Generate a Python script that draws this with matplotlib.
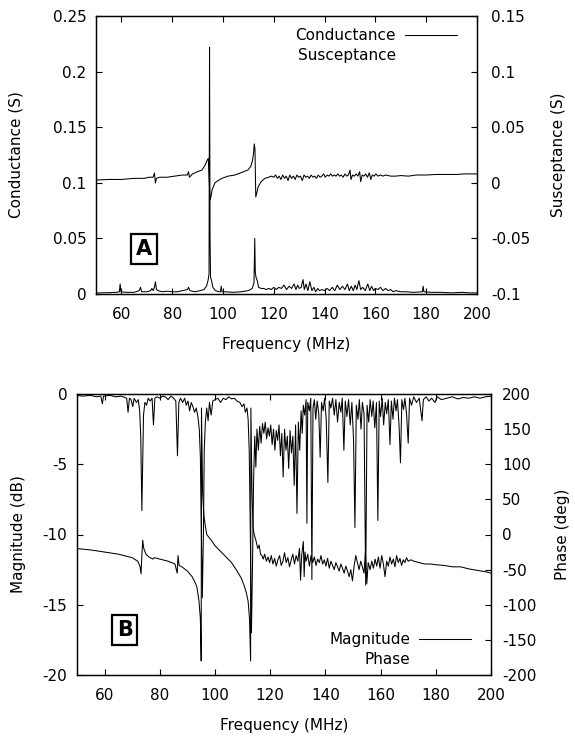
import matplotlib
matplotlib.use("Agg")
import matplotlib.pyplot as plt
from matplotlib.lines import Line2D

plt.rcParams['font.family'] = ['DejaVu Sans']
plt.rcParams['font.size'] = 11

# ---------------- Panel A data ----------------
cond_f = [50, 52, 55, 58, 59.2, 59.5, 59.8, 62, 65, 67, 67.5, 68, 70, 71.5, 72, 72.5, 73, 73.4, 73.8,
          74.5, 76, 78, 80, 82, 84, 86, 86.4, 87, 89, 91, 92.5, 93.5, 94.1, 94.5, 94.7, 94.9, 95.1,
          95.5, 96, 97, 98.5, 99, 99.3, 99.6, 101, 104, 107, 110, 111.5, 112.2, 112.5, 112.7, 113,
          113.5, 114, 115, 116, 117, 118, 119, 120, 121, 122, 123, 124, 125, 126, 127, 128, 128.7,
          129.4, 130, 130.8, 131.5, 132, 132.7, 133.4, 134.2, 135, 135.8, 136.5, 137.3, 138, 139,
          140, 141, 142, 143, 144, 145, 146, 147, 148, 149, 149.7, 150.5, 151.3, 152, 152.7, 153.5,
          154.2, 155, 156, 157, 157.8, 158.5, 159.3, 160, 161, 162, 163, 164, 165, 166, 167, 168,
          170, 172, 175, 178.5, 178.8, 179.1, 182, 186, 190, 194, 197, 200]
cond_g = [0.001, 0.001, 0.0012, 0.0015, 0.002, 0.009, 0.002, 0.0015, 0.0015, 0.003, 0.006, 0.002,
          0.002, 0.003, 0.005, 0.003, 0.006, 0.011, 0.004, 0.003, 0.002, 0.0025, 0.002, 0.002, 0.003,
          0.004, 0.006, 0.003, 0.002, 0.003, 0.004, 0.007, 0.012, 0.018, 0.222, 0.05, 0.015, 0.012,
          0.006, 0.003, 0.002, 0.002, 0.007, 0.002, 0.002, 0.0015, 0.002, 0.003, 0.005, 0.01, 0.05,
          0.02, 0.015, 0.012, 0.006, 0.005, 0.005, 0.004, 0.005, 0.004, 0.006, 0.004, 0.006, 0.005,
          0.008, 0.004, 0.007, 0.005, 0.009, 0.004, 0.008, 0.005, 0.006, 0.013, 0.004, 0.009, 0.003,
          0.011, 0.003, 0.006, 0.002, 0.005, 0.003, 0.004, 0.003, 0.005, 0.003, 0.006, 0.003, 0.008,
          0.004, 0.007, 0.004, 0.009, 0.003, 0.007, 0.003, 0.008, 0.004, 0.012, 0.004, 0.006, 0.003,
          0.009, 0.003, 0.007, 0.003, 0.005, 0.004, 0.006, 0.003, 0.005, 0.003, 0.004, 0.002, 0.003,
          0.002, 0.002, 0.0015, 0.002, 0.007, 0.002, 0.0015, 0.0015, 0.001, 0.0015, 0.001, 0.001]

susc_f = [50, 55, 60, 65, 69, 71, 72.5, 73, 73.4, 73.8, 75, 78, 81, 84, 86, 86.4, 86.8, 88, 90,
          91.7, 93, 93.7, 94.2, 94.6, 94.9, 95.3, 95.7, 96.3, 96.8, 98, 99.6, 102, 104.7, 107, 109.8,
          111, 111.6, 112.0, 112.3, 112.6, 112.9, 113.4, 113.8, 115, 116.5, 118, 119, 120, 120.7,
          121.4, 122.1, 122.8, 123.5, 124.2, 124.9, 125.6, 126.3, 127, 127.7, 128.4, 129.1, 129.8,
          130.5, 131.2, 131.9, 132.6, 133.3, 134, 134.7, 135.4, 136.1, 136.8, 137.5, 138.2, 138.9,
          139.6, 140.3, 141, 141.7, 142.4, 143.1, 143.8, 144.5, 145.2, 145.9, 146.6, 147.3, 148,
          148.7, 149.4, 150, 150.4, 151, 151.7, 152.4, 153.1, 153.8, 154.2, 154.8, 155.5, 156.2,
          156.9, 157.6, 158.2, 158.8, 159.5, 160.2, 161, 162, 163, 164, 165, 166, 168, 170, 173,
          176, 180, 184, 188, 192, 195, 198, 200]
susc_b = [0.0025, 0.003, 0.003, 0.004, 0.004, 0.005, 0.005, 0.0088, -0.0002, 0.004, 0.005, 0.005,
          0.006, 0.007, 0.007, 0.01, 0.005, 0.008, 0.01, 0.0115, 0.016, 0.020, 0.022, 0.0, -0.0155,
          -0.012, -0.0065, -0.003, -0.0002, 0.002, 0.004, 0.006, 0.007, 0.009, 0.0115, 0.015, 0.02,
          0.026, 0.035, 0.03, -0.0128, -0.008, -0.004, 0.001, 0.004, 0.005, 0.006, 0.005, 0.007,
          0.004, 0.006, 0.003, 0.007, 0.004, 0.006, 0.002, 0.007, 0.004, 0.006, 0.003, 0.007, 0.005,
          0.006, 0.002, 0.007, 0.005, 0.006, 0.004, 0.007, 0.005, 0.006, 0.004, 0.007, 0.005, 0.006,
          0.008, 0.005, 0.007, 0.006, 0.008, 0.006, 0.007, 0.006, 0.008, 0.006, 0.007, 0.005, 0.008,
          0.006, 0.007, 0.0115, 0.003, 0.007, 0.006, 0.008, 0.006, 0.010, 0.001, 0.007, 0.006, 0.008,
          0.005, 0.009, 0.003, 0.007, 0.006, 0.008, 0.006, 0.007, 0.006, 0.007, 0.0065, 0.006,
          0.006, 0.0065, 0.006, 0.007, 0.007, 0.0075, 0.0075, 0.0075, 0.008, 0.008, 0.008]

# ---------------- Panel B data ----------------
mag_f = [50, 52, 55, 57, 58.6, 59.2, 59.6, 62, 64, 66, 68, 68.5, 69, 69.6, 70.2, 70.7, 71.5, 72.2,
         72.7, 73.1, 73.5, 73.8, 74.1, 74.6, 75.2, 75.8, 76.5, 77.2, 77.7, 78.2, 79, 80, 81, 82, 83,
         84, 85, 85.8, 86.4, 86.9, 87.5, 88.3, 89, 89.6, 90.2, 90.8, 91.4, 92, 92.6, 93.2, 93.8,
         94.3, 94.7, 95.0, 95.4, 95.8, 96.1, 96.5, 97, 97.5, 98, 98.6, 99.2, 100, 101, 102, 103, 104,
         105, 106, 107, 108, 109, 109.8, 110.5, 111, 111.6, 112, 112.4, 112.8, 113.2, 113.6, 114,
         114.4, 114.8, 115.2, 115.7, 116.2, 116.7, 117.2, 117.7, 118.2, 118.7, 119.2, 119.7, 120.2,
         120.7, 121.2, 121.7, 122.2, 122.7, 123.2, 123.7, 124.2, 124.7, 125.2, 125.7, 126.2, 126.7,
         127.2, 127.7, 128.2, 128.7, 129.2, 129.7, 130.2, 130.7, 131.2, 131.6, 132, 132.5, 133,
         133.3, 133.6, 134.2, 134.7, 135.1, 135.5, 136, 136.5, 137, 137.6, 138.1, 138.6, 139.2,
         139.7, 140.3, 140.9, 141.4, 142, 142.6, 143.2, 143.8, 144.4, 145, 145.6, 146.1, 146.7,
         147.2, 147.8, 148.4, 149, 149.6, 150.2, 150.7, 151.2, 151.8, 152.3, 152.9, 153.4, 154,
         154.6, 155.1, 155.7, 156.2, 156.8, 157.3, 157.9, 158.5, 159, 159.5, 160, 160.6, 161.1,
         161.7, 162.2, 162.8, 163.4, 163.9, 164.5, 165, 165.6, 166.1, 166.7, 167.2, 167.7, 168.3,
         168.8, 169.4, 170, 170.5, 171.2, 172, 173, 174, 175, 175.5, 176.5, 177.5, 178.5, 179.7,
         180.5, 182, 184, 186, 188, 190, 192, 194, 196, 198, 200]
mag_db = [-0.1, -0.15, -0.1, -0.2, -0.15, -0.7, -0.15, -0.1, -0.2, -0.15, -0.3, -1.3, -0.3, -0.4,
          -0.9, -0.3, -0.6, -0.4, -1.2, -3.0, -8.3, -5.0, -1.5, -0.6, -0.8, -0.3, -0.5, -0.3, -2.2,
          -0.3, -0.2, -0.3, -0.15, -0.2, -0.4, -0.15, -0.3, -0.5, -4.4, -0.6, -0.3, -0.6, -0.3, -0.8,
          -0.5, -1.2, -0.6, -0.9, -1.3, -1.0, -1.6, -2.5, -4.5, -9.0, -14.5, -10.0, -4.0, -2.0,
          -1.0, -1.9, -0.6, -1.5, -0.5, -0.4, -0.3, -0.6, -0.3, -0.4, -0.2, -0.35, -0.3, -0.5, -0.6,
          -0.9, -0.7, -1.3, -1.0, -1.8, -4.0, -10.0, -17.0, -12.0, -6.0, -3.0, -5.2, -2.5, -4.0,
          -2.3, -3.5, -2.1, -2.8, -2.0, -3.2, -2.4, -3.0, -2.2, -3.6, -2.5, -4.0, -2.6, -3.3, -2.2,
          -4.4, -2.8, -5.9, -2.5, -4.0, -3.0, -5.3, -2.6, -4.2, -3.0, -6.5, -2.2, -8.5, -2.0, -4.0,
          -1.2, -2.8, -0.8, -1.5, -0.4, -9.2, -0.6, -1.2, -0.3, -13.2, -1.0, -0.4, -1.8, -0.5, -1.4,
          -4.5, -0.6, -1.2, -0.3, -1.8, -6.3, -0.5, -1.0, -0.3, -1.5, -0.4, -2.0, -0.6, -1.3, -0.3,
          -4.0, -0.5, -1.6, -0.4, -2.2, -0.6, -3.3, -9.5, -0.8, -1.8, -0.4, -2.5, -0.6, -1.4, -13.6,
          -0.8, -2.0, -0.4, -1.6, -0.5, -2.4, -0.6, -9.0, -0.5, -1.6, -0.3, -2.2, -0.6, -1.4, -0.4,
          -3.6, -0.5, -1.8, -0.3, -1.2, -0.4, -2.3, -4.9, -0.4, -1.1, -0.3, -1.4, -3.5, -0.3, -0.8,
          -0.2, -0.6, -0.3, -1.9, -0.4, -0.2, -0.5, -0.3, -0.6, -0.2, -0.4, -0.3, -0.2, -0.35, -0.25,
          -0.3, -0.2, -0.3, -0.2, -0.15]

phase_f = [50, 55, 60, 65, 70, 72, 72.8, 73.2, 73.5, 73.8, 74.2, 75, 76, 77.5, 78, 80, 83, 85.5,
           86.3, 86.6, 87, 88, 90, 91.7, 93, 93.5, 94.2, 94.7, 95.0, 95.1, 95.5, 96, 96.5, 97, 98,
           99, 100, 102, 104, 106, 108, 109.5, 110.5, 111.3, 112, 112.5, 112.9, 113.0, 113.4, 113.8,
           114.2, 114.8, 115.5, 116, 116.5, 117, 117.5, 118, 118.6, 119.2, 119.8, 120.4, 121, 121.6,
           122.2, 122.8, 123.4, 124, 124.6, 125.2, 125.8, 126.4, 127, 127.6, 128.2, 128.8, 129.4,
           130, 130.6, 131, 131.4, 132, 132.3, 132.6, 133, 133.6, 134.2, 134.8, 135.4, 136, 136.6,
           137.2, 137.8, 138.4, 139, 139.6, 140.2, 140.8, 141.4, 142, 142.6, 143.2, 143.8, 144.4,
           145, 145.6, 146.2, 146.8, 147.4, 148, 148.6, 149.2, 149.8, 150.4, 151, 151.6, 152.2,
           152.8, 153.4, 154, 154.5, 155, 155.5, 156.2, 156.8, 157.4, 158, 158.6, 159.2, 159.8,
           160.4, 161, 161.6, 162.2, 162.8, 163.4, 164, 164.6, 165.2, 165.8, 166.4, 167, 167.6,
           168.2, 168.8, 169.4, 170, 171, 172, 174, 176, 178, 180, 183, 186, 189, 192, 195, 198, 200]
phase_deg = [-20, -22, -25, -28, -33, -38, -45, -56, -30, -8, -20, -28, -32, -35, -33, -35, -38,
             -42, -55, -30, -44, -46, -52, -60, -70, -76, -95, -120, -180, 180, 60, 26, 12, 0, -5,
             -10, -16, -24, -32, -40, -52, -62, -72, -82, -95, -120, -180, 180, 60, 10, 0, -8, -20,
             -15, -28, -30, -35, -28, -38, -32, -40, -30, -42, -34, -45, -36, -30, -44, -38, -26,
             -40, -33, -46, -36, -28, -42, -30, -38, -20, -65, -30, -10, -60, -25, -38, -28, -45,
             -30, -40, -32, -44, -35, -40, -30, -42, -36, -45, -34, -48, -38, -44, -50, -40, -46,
             -52, -42, -48, -55, -45, -52, -60, -50, -66, -45, -30, -40, -50, -38, -46, -55, -25,
             -70, -40, -50, -38, -48, -35, -45, -32, -48, -30, -42, -60, -38, -45, -32, -42, -35,
             -46, -30, -40, -34, -44, -36, -40, -33, -38, -36, -38, -40, -42, -42, -43, -44, -46,
             -46, -49, -51, -53, -55]

# ---------------- tick definitions ----------------
freq_ticks = [60, 80, 100, 120, 140, 160, 180, 200]
freq_labels = ["60", "80", "100", "120", "140", "160", "180", "200"]
cond_ticks = [0, 0.05, 0.1, 0.15, 0.2, 0.25]
cond_labels = ["0", "0.05", "0.1", "0.15", "0.2", "0.25"]
susc_ticks = [-0.1, -0.05, 0, 0.05, 0.1, 0.15]
susc_labels = ["-0.1", "-0.05", "0", "0.05", "0.1", "0.15"]
mag_ticks = [-20, -15, -10, -5, 0]
mag_labels = ["-20", "-15", "-10", "-5", "0"]
phase_ticks = [-200, -150, -100, -50, 0, 50, 100, 150, 200]
phase_labels = ["-200", "-150", "-100", "-50", "0", "50", "100", "150", "200"]

W, H = 575, 738
fig = plt.figure(figsize=(W / 100, H / 100), dpi=100)

def px_axes(l, t, r, b):
    return fig.add_axes([l / W, 1 - b / H, (r - l) / W, (b - t) / H])

lw = 0.75

def style(ax):
    for s in ax.spines.values():
        s.set_linewidth(0.9)
    ax.tick_params(direction='in', length=4, width=0.8, labelsize=11)

# ----- Panel A -----
axA = px_axes(96, 16, 477, 294)
axA2 = axA.twinx()
lc, = axA.plot(cond_f, cond_g, color='black', lw=lw)
axA2.plot(susc_f, susc_b, color='black', lw=lw)
axA.set_xlim(50, 200)
axA.set_ylim(0, 0.25)
axA2.set_ylim(-0.1, 0.15)
axA.set_xticks(freq_ticks, freq_labels)
axA.set_yticks(cond_ticks, cond_labels)
axA2.set_yticks(susc_ticks, susc_labels)
style(axA); style(axA2)
axA.tick_params(axis='x', top=True, pad=9)
axA.tick_params(axis='y', pad=7)
axA2.tick_params(axis='y', pad=10)
axA.set_xlabel("Frequency (MHz)", fontsize=11)
axA.xaxis.set_label_coords(0.5, -0.155)
axA.set_ylabel("Conductance (S)", fontsize=11)
axA.yaxis.set_label_coords(-0.189, 0.5)
axA2.set_ylabel("Susceptance (S)", fontsize=11, rotation=90)
axA2.yaxis.set_label_coords(1.194, 0.5)
axA2.legend([lc, Line2D([], [], linestyle='none')], ["Conductance", "Susceptance"],
            loc='upper right', bbox_to_anchor=(0.975, 0.995), frameon=False, markerfirst=False,
            handlelength=3.4, handletextpad=0.6, labelspacing=0.3, fontsize=11,
            borderaxespad=0.3)
axA.text(0.126, 0.162, "A", transform=axA.transAxes, ha='center', va='center',
         fontsize=15, fontweight='bold',
         bbox=dict(boxstyle='square,pad=0.22', facecolor='white', edgecolor='black', linewidth=1.6))

# ----- Panel B -----
axB = px_axes(77, 394, 491, 675)
axB2 = axB.twinx()
lm, = axB.plot(mag_f, mag_db, color='black', lw=lw)
axB2.plot(phase_f, phase_deg, color='black', lw=lw)
axB.set_xlim(50, 200)
axB.set_ylim(-20, 0)
axB2.set_ylim(-200, 200)
axB.set_xticks(freq_ticks, freq_labels)
axB.set_yticks(mag_ticks, mag_labels)
axB2.set_yticks(phase_ticks, phase_labels)
style(axB); style(axB2)
axB.tick_params(axis='x', top=True, pad=9)
axB.tick_params(axis='y', pad=7)
axB2.tick_params(axis='y', pad=8)
axB.set_xlabel("Frequency (MHz)", fontsize=11)
axB.xaxis.set_label_coords(0.5, -0.153)
axB.set_ylabel("Magnitude (dB)", fontsize=11)
axB.yaxis.set_label_coords(-0.123, 0.5)
axB2.set_ylabel("Phase (deg)", fontsize=11, rotation=90)
axB2.yaxis.set_label_coords(1.155, 0.5)
axB2.legend([lm, Line2D([], [], linestyle='none')], ["Magnitude", "Phase"],
            loc='lower right', bbox_to_anchor=(0.978, -0.008), frameon=False, markerfirst=False,
            handlelength=3.4, handletextpad=0.6, labelspacing=0.3, fontsize=11,
            borderaxespad=0.3)
axB.text(0.115, 0.16, "B", transform=axB.transAxes, ha='center', va='center',
         fontsize=15, fontweight='bold',
         bbox=dict(boxstyle='square,pad=0.22', facecolor='white', edgecolor='black', linewidth=1.6))

fig.savefig("out.png", dpi=100)
